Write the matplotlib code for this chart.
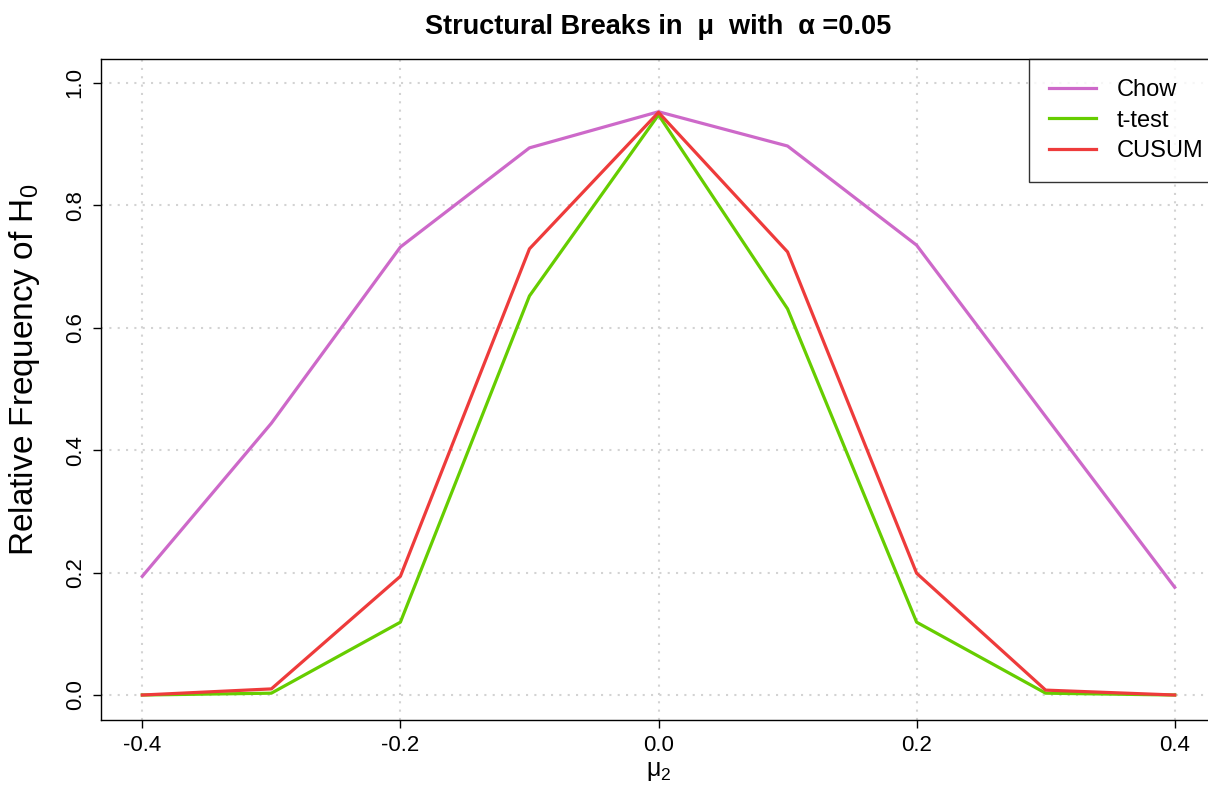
import matplotlib
matplotlib.use("Agg")
import matplotlib.pyplot as plt

plt.rcParams['font.family'] = ['Liberation Sans', 'DejaVu Sans']

mu2 = [-0.4, -0.3, -0.2, -0.1, 0.0, 0.1, 0.2, 0.3, 0.4]
chow = [0.194, 0.444, 0.732, 0.894, 0.953, 0.897, 0.735, 0.455, 0.176]
ttest = [0.000, 0.003, 0.119, 0.652, 0.948, 0.631, 0.119, 0.003, 0.000]
cusum = [0.000, 0.010, 0.194, 0.729, 0.952, 0.724, 0.199, 0.008, 0.000]

W, H = 1208, 792
fig = plt.figure(figsize=(W / 100, H / 100), dpi=100)
# plot region runs a little past the right edge of the figure
ax = fig.add_axes([101 / W, 1 - 719.5 / H, (1216 - 101) / W, (719.5 - 58.5) / H])

lw = 2.3
ax.plot(mu2, chow, color='#CD69C9', lw=lw, label='Chow')
ax.plot(mu2, ttest, color='#66CD00', lw=lw, label='t-test')
ax.plot(mu2, cusum, color='#EE3B3B', lw=lw, label='CUSUM')

ax.set_xlim(-0.432, 0.432)
ax.set_ylim(-0.04, 1.04)
ax.set_xticks([-0.4, -0.2, 0.0, 0.2, 0.4])
ax.set_xticklabels(['-0.4', '-0.2', '0.0', '0.2', '0.4'])
ax.set_yticks([0.0, 0.2, 0.4, 0.6, 0.8, 1.0])
ax.set_yticklabels(['0.0', '0.2', '0.4', '0.6', '0.8', '1.0'], rotation=90, va='center')
ax.grid(True, color='#D3D3D3', linestyle=(0, (1, 3)), lw=1.5)
ax.tick_params(labelsize=16, length=6, width=1, direction='out', pad=5)
for s in ax.spines.values():
    s.set_linewidth(1)

ax.set_xlabel(r'$\mathregular{\mu_2}$', fontsize=18, labelpad=2)
ax.set_ylabel(r'Relative Frequency of $\mathregular{H_0}$', fontsize=24)
ax.yaxis.set_label_coords(-(101 - 42) / (1216 - 101), (719.5 - 370) / (719.5 - 58.5))
fig.text(658 / W, 1 - 27 / H, 'Structural Breaks in  \u03bc  with  \u03b1 =0.05',
         ha='center', va='center', fontsize=19.5, fontweight='bold')

# legend box is anchored at its top-left corner and runs off the right edge
leg = ax.legend(loc='upper left', bbox_to_anchor=(1029 / W, 1 - 59 / H),
                bbox_transform=fig.transFigure, fontsize=17, frameon=True,
                fancybox=False, borderaxespad=0, handlelength=2.0, borderpad=0.85,
                labelspacing=0.36, handletextpad=0.85)
leg.get_frame().set_edgecolor('black')
leg.get_frame().set_linewidth(1)

fig.savefig('out.png', dpi=100)
